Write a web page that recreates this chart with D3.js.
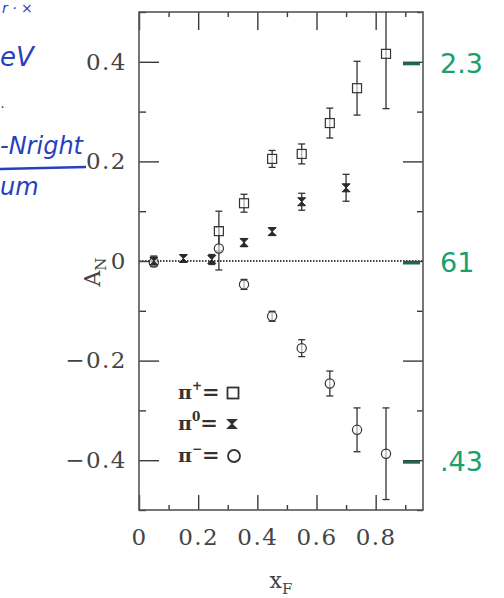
<!DOCTYPE html>
<html>
<head>
<meta charset="utf-8">
<script src="https://cdn.jsdelivr.net/npm/d3@7"></script>
<style>
  html, body { margin: 0; padding: 0; background: #fff; }
  svg { display: block; }
</style>
</head>
<body>
<svg id="chart" width="504" height="598"></svg>
<script>
// ---------- data ----------
const xMajorTicks = [0, 0.2, 0.4, 0.6, 0.8];
const xMinorTicks = [0.1, 0.3, 0.5, 0.7, 0.9];
const yMajorTicks = [-0.4, -0.2, 0, 0.2, 0.4];
const yMinorTicks = [-0.5, -0.3, -0.1, 0.1, 0.3, 0.5];

// pi+ (open squares)
const piPlusX   = [0.27, 0.355, 0.45, 0.55, 0.645, 0.737, 0.835];
const piPlusA   = [0.060, 0.116, 0.205, 0.215, 0.277, 0.347, 0.416];
const piPlusErr = [0.040, 0.018, 0.017, 0.020, 0.030, 0.054, 0.110];

// pi0 (bow-tie crosses)
const piZeroX   = [0.05, 0.15, 0.246, 0.355, 0.45, 0.55, 0.70];
const piZeroA   = [0.000, 0.005, 0.003, 0.037, 0.059, 0.119, 0.147];
const piZeroErr = [0.010, 0.006, 0.010, 0.008, 0.007, 0.017, 0.027];

// pi- (open circles)
const piMinusX   = [0.05, 0.27, 0.355, 0.45, 0.55, 0.645, 0.737, 0.835];
const piMinusA   = [-0.003, 0.025, -0.047, -0.111, -0.175, -0.246, -0.339, -0.387];
const piMinusErr = [0.008, 0.043, 0.010, 0.010, 0.017, 0.025, 0.044, 0.092];

// handwritten margin notes
const rightNotes = [
  {v: 0.4, text: "2.3"},
  {v: 0.0, text: "61"},
  {v: -0.4, text: ".43"}
];

// ---------- layout ----------
const svg = d3.select("#chart");
const L = 139, R = 423, T = 12, B = 510;
const x = d3.scaleLinear().domain([0, 0.96]).range([L, R]);
const y = d3.scaleLinear().domain([-0.5, 0.5]).range([B, T]);
const ink = "#3a3a3a";
const serif = "'DejaVu Serif', 'Liberation Serif', serif";

svg.append("rect").attr("width", 504).attr("height", 598).attr("fill", "#fff");

// ---------- axes ----------
const fmt = d => d === 0 ? "0" : (d < 0 ? "\u2212" + Math.abs(d).toFixed(1) : d.toFixed(1));

function styleAxis(g) {
  g.select(".domain").remove();
  g.selectAll(".tick line").attr("stroke", ink).attr("stroke-width", 1.4);
  g.selectAll(".tick text").attr("fill", "#444").attr("font-family", serif)
    .attr("font-size", 23).attr("letter-spacing", "1.5px");
}

// bottom
svg.append("g").attr("transform", `translate(0,${B})`)
  .call(d3.axisBottom(x).tickValues(xMajorTicks).tickSizeInner(-15).tickSizeOuter(0)
        .tickPadding(19).tickFormat(fmt))
  .call(styleAxis);
svg.append("g").attr("transform", `translate(0,${B})`)
  .call(d3.axisBottom(x).tickValues(xMinorTicks).tickSizeInner(-5).tickSizeOuter(0).tickFormat(""))
  .call(styleAxis);
// top
svg.append("g").attr("transform", `translate(0,${T})`)
  .call(d3.axisTop(x).tickValues(xMajorTicks).tickSizeInner(-18).tickSizeOuter(0).tickFormat(""))
  .call(styleAxis);
svg.append("g").attr("transform", `translate(0,${T})`)
  .call(d3.axisTop(x).tickValues(xMinorTicks).tickSizeInner(-5).tickSizeOuter(0).tickFormat(""))
  .call(styleAxis);
// left
svg.append("g").attr("transform", `translate(${L},0)`)
  .call(d3.axisLeft(y).tickValues(yMajorTicks).tickSizeInner(-20).tickSizeOuter(0)
        .tickPadding(12).tickFormat(fmt))
  .call(styleAxis);
svg.append("g").attr("transform", `translate(${L},0)`)
  .call(d3.axisLeft(y).tickValues(yMinorTicks).tickSizeInner(-7).tickSizeOuter(0).tickFormat(""))
  .call(styleAxis);
// right
svg.append("g").attr("transform", `translate(${R},0)`)
  .call(d3.axisRight(y).tickValues(yMajorTicks).tickSizeInner(-20).tickSizeOuter(0).tickFormat(""))
  .call(styleAxis);
svg.append("g").attr("transform", `translate(${R},0)`)
  .call(d3.axisRight(y).tickValues(yMinorTicks).tickSizeInner(-6).tickSizeOuter(0).tickFormat(""))
  .call(styleAxis);

// frame
svg.append("rect").attr("x", L).attr("y", T).attr("width", R - L).attr("height", B - T)
  .attr("fill", "none").attr("stroke", "#555").attr("stroke-width", 1.6);

// zero dotted line
svg.append("line").attr("x1", L).attr("x2", R).attr("y1", y(0)).attr("y2", y(0))
  .attr("stroke", "#444").attr("stroke-width", 2).attr("stroke-dasharray", "1.5,1.5");

// axis titles
const xt = svg.append("text").attr("x", (L + R) / 2).attr("y", 588).attr("text-anchor", "middle")
  .attr("font-family", serif).attr("font-size", 22).attr("fill", "#444");
xt.append("tspan").text("x");
xt.append("tspan").attr("dy", 6).attr("font-size", 15).text("F");

const yt = svg.append("text").attr("transform", `translate(100,272) rotate(-90)`)
  .attr("text-anchor", "middle")
  .attr("font-family", serif).attr("font-size", 22).attr("fill", "#444");
yt.append("tspan").text("A");
yt.append("tspan").attr("dy", 6).attr("font-size", 15).text("N");

// ---------- plot ----------
const plot = svg.append("g");
plot.append("clipPath").attr("id", "clip").append("rect")
  .attr("x", L).attr("y", T).attr("width", R - L).attr("height", B - T);
const pg = plot.append("g").attr("clip-path", "url(#clip)");

function errorBars(xs, as, es) {
  const d = xs.map((v, i) => ({x: v, a: as[i], e: es[i]}));
  const g = pg.append("g").attr("stroke", "#333").attr("stroke-width", 1.3);
  g.selectAll("line.v").data(d).join("line")
    .attr("x1", p => x(p.x)).attr("x2", p => x(p.x))
    .attr("y1", p => y(p.a + p.e)).attr("y2", p => y(p.a - p.e));
  g.selectAll("line.t").data(d).join("line")
    .attr("x1", p => x(p.x) - 3.5).attr("x2", p => x(p.x) + 3.5)
    .attr("y1", p => y(p.a + p.e)).attr("y2", p => y(p.a + p.e));
  g.selectAll("line.b").data(d).join("line")
    .attr("x1", p => x(p.x) - 3.5).attr("x2", p => x(p.x) + 3.5)
    .attr("y1", p => y(p.a - p.e)).attr("y2", p => y(p.a - p.e));
  return d;
}

const bowtie = "M-4,-4L4,-4L-4,4L4,4Z";

const dPlus = errorBars(piPlusX, piPlusA, piPlusErr);
const dZero = errorBars(piZeroX, piZeroA, piZeroErr);
const dMinus = errorBars(piMinusX, piMinusA, piMinusErr);

pg.selectAll("rect.sq").data(dPlus).join("rect")
  .attr("x", p => x(p.x) - 4.5).attr("y", p => y(p.a) - 4.5)
  .attr("width", 9).attr("height", 9)
  .attr("fill", "#fff").attr("fill-opacity", 0.6).attr("stroke", "#333").attr("stroke-width", 1.2);

pg.selectAll("circle.c").data(dMinus).join("circle")
  .attr("cx", p => x(p.x)).attr("cy", p => y(p.a)).attr("r", 4.6)
  .attr("fill", "#fff").attr("fill-opacity", 0.6).attr("stroke", "#333").attr("stroke-width", 1.2);

pg.selectAll("path.bt").data(dZero).join("path")
  .attr("transform", p => `translate(${x(p.x)},${y(p.a)})`)
  .attr("d", bowtie).attr("fill", "#2a2a2a").attr("stroke", "#2a2a2a").attr("stroke-width", 1);

// ---------- legend ----------
const legend = [
  {sup: "+", y: 393, kind: "square"},
  {sup: "0", y: 424, kind: "bowtie"},
  {sup: "\u2212", y: 456, kind: "circle"}
];
const lg = svg.append("g");
legend.forEach(it => {
  const t = lg.append("text").attr("x", 178).attr("y", it.y + 6)
    .attr("font-family", serif).attr("font-size", 19).attr("font-weight", "bold").attr("fill", "#333");
  t.append("tspan").text("\u03c0");
  t.append("tspan").attr("dy", -9).attr("font-size", 12).text(it.sup);
  t.append("tspan").attr("dy", 9).attr("font-size", 21).attr("dx", 0).text("=");
  const cx = 233;
  if (it.kind === "square") {
    lg.append("rect").attr("x", cx - 5.5).attr("y", it.y - 5.5).attr("width", 11).attr("height", 11)
      .attr("fill", "none").attr("stroke", "#333").attr("stroke-width", 1.8);
  } else if (it.kind === "circle") {
    lg.append("circle").attr("cx", cx + 1).attr("cy", it.y).attr("r", 6)
      .attr("fill", "none").attr("stroke", "#333").attr("stroke-width", 1.8);
  } else {
    lg.append("path").attr("transform", `translate(${cx - 1},${it.y})`).attr("d", "M-4.5,-4.5L4.5,-4.5L-4.5,4.5L4.5,4.5Z")
      .attr("fill", "#333").attr("stroke", "#333").attr("stroke-width", 1.2);
  }
});

// ---------- handwritten annotations ----------
const green = "#18a070";
const hand = "'DejaVu Sans', sans-serif";
rightNotes.forEach(n => {
  svg.append("line").attr("x1", 403).attr("x2", 420).attr("y1", y(n.v) + 2).attr("y2", y(n.v) + 2)
    .attr("stroke", "#1c6a4e").attr("stroke-width", 3);
  svg.append("text").attr("x", 440).attr("y", y(n.v) + 11)
    .attr("font-family", hand).attr("font-size", 27).attr("fill", green).text(n.text);
});

const blue = "#2740c0";
const notes = svg.append("g").attr("fill", blue).attr("font-family", hand).attr("font-style", "italic");
notes.append("text").attr("x", 2).attr("y", 13).attr("font-size", 14).text("r    \u00b7 \u00d7");
notes.append("text").attr("x", 0).attr("y", 66).attr("font-size", 26).text("eV");
notes.append("text").attr("x", 0).attr("y", 112).attr("font-size", 14).text("\u00b7");
notes.append("text").attr("x", 0).attr("y", 154).attr("font-size", 24).text("-Nright");
notes.append("line").attr("x1", 0).attr("x2", 86).attr("y1", 169).attr("y2", 167)
  .attr("stroke", blue).attr("stroke-width", 2.5);
notes.append("text").attr("x", 0).attr("y", 195).attr("font-size", 24).text("um");
</script>
</body>
</html>
